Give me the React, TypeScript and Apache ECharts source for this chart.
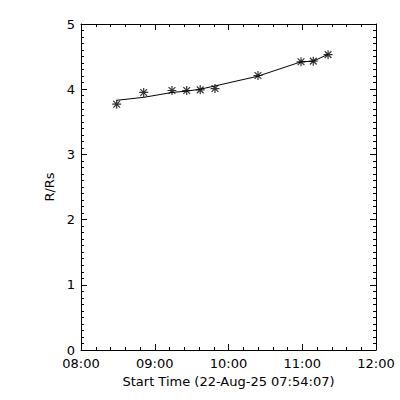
import React, { useEffect, useRef } from "react";
import * as echarts from "echarts";

const times = ["08:29", "08:51", "09:14", "09:26", "09:37", "09:49", "10:24", "10:59", "11:09", "11:21"];
const measured = [3.77, 3.95, 3.98, 3.98, 3.99, 4.01, 4.21, 4.42, 4.43, 4.53];
const fitted = [3.83, 3.875, 3.95, 3.97, 4.0, 4.05, 4.2, 4.42, 4.43, 4.535];
const xTitle = "Start Time (22-Aug-25 07:54:07)";
const yTitle = "R/Rs";

const toMin = (t: string) => {
  const [h, m] = t.split(":").map(Number);
  return (h - 8) * 60 + m;
};
const fmt = (v: number) => {
  const h = 8 + Math.floor(v / 60);
  const m = Math.round(v % 60);
  return String(h).padStart(2, "0") + ":" + String(m).padStart(2, "0");
};

const FONT = "DejaVu Sans";
const star = "path://M0,-4L0,4M-4,0L4,0M-3,-3L3,3M-3,3L3,-3";

export default function App() {
  const ref = useRef<HTMLDivElement>(null);
  useEffect(() => {
    const chart = echarts.init(ref.current!, null, { renderer: "svg" });
    const line = { lineStyle: { color: "#000", width: 1 } };
    const xCommon = {
      type: "value",
      min: 0,
      max: 240,
      interval: 60,
      axisLine: { show: true, onZero: false, ...line },
      axisTick: { show: true, inside: true, length: 6, ...line },
      minorTick: { show: true, splitNumber: 5, length: 3, ...line },
      splitLine: { show: false },
    };
    const yCommon = {
      type: "value",
      min: 0,
      max: 5,
      interval: 1,
      axisLine: { show: true, onZero: false, ...line },
      axisTick: { show: true, inside: true, length: 6, ...line },
      minorTick: { show: true, splitNumber: 10, length: 3, ...line },
      splitLine: { show: false },
    };
    chart.setOption({
      animation: false,
      backgroundColor: "#fff",
      grid: { left: 81, right: 24, top: 24, bottom: 50 },
      xAxis: [
        {
          ...xCommon,
          position: "bottom",
          name: xTitle,
          nameLocation: "middle",
          nameGap: 25,
          nameTextStyle: { color: "#000", fontFamily: FONT, fontSize: 13 },
          axisLabel: { color: "#000", fontFamily: FONT, fontSize: 13, margin: 7, formatter: fmt },
        },
        { ...xCommon, position: "top", axisLabel: { show: false } },
      ],
      yAxis: [
        {
          ...yCommon,
          position: "left",
          name: yTitle,
          nameLocation: "middle",
          nameGap: 20,
          nameRotate: 90,
          nameTextStyle: { color: "#000", fontFamily: FONT, fontSize: 13 },
          axisLabel: { color: "#000", fontFamily: FONT, fontSize: 13, margin: 6 },
        },
        { ...yCommon, position: "right", axisLabel: { show: false } },
      ],
      series: [
        {
          type: "line",
          data: times.map((t, i) => [toMin(t), fitted[i]]),
          showSymbol: false,
          symbol: "none",
          lineStyle: { color: "#000", width: 1 },
          silent: true,
        },
        {
          type: "scatter",
          data: times.map((t, i) => [toMin(t), measured[i]]),
          symbol: star,
          symbolSize: 9,
          itemStyle: { color: "none", borderColor: "#000", borderWidth: 1.2 },
        },
      ],
    });
    return () => chart.dispose();
  }, []);
  return (
    <div
      ref={ref}
      style={{ position: "fixed", left: 0, top: 0, width: 400, height: 400, background: "#fff" }}
    />
  );
}
